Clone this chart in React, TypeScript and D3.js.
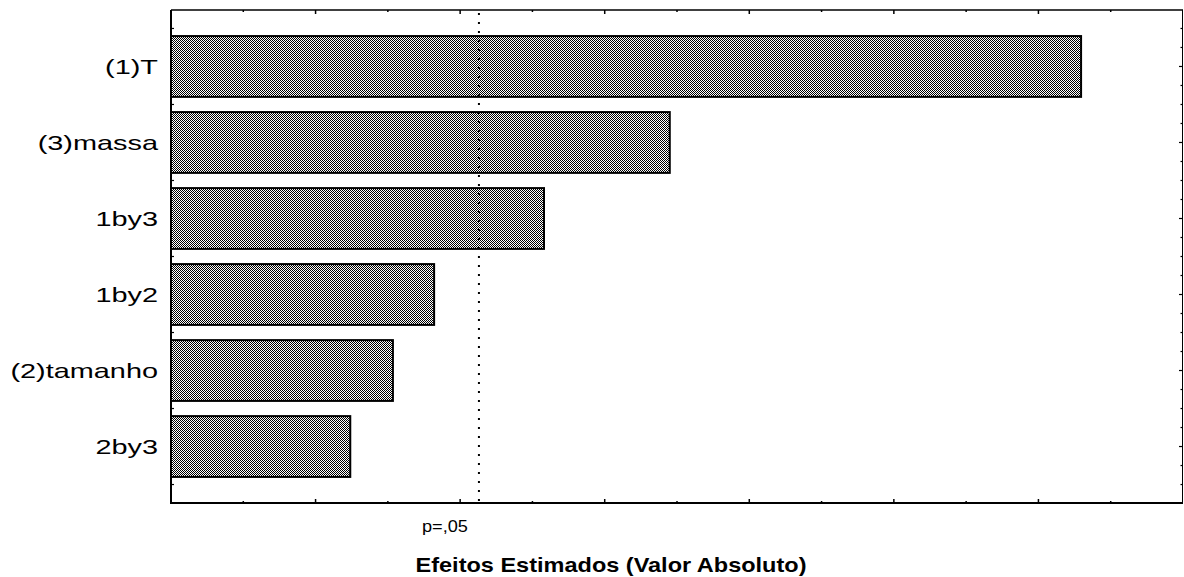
import React from "react";
import * as d3 from "d3";

const categories = ["(1)T", "(3)massa", "1by3", "1by2", "(2)tamanho", "2by3"];
const effects = [12.59, 6.9, 5.16, 3.64, 3.07, 2.48];
const pCritical = 4.26;
const pLabel = "p=,05";
const xTicks = d3.range(0, 15, 1);
const xTitle = "Efeitos Estimados (Valor Absoluto)";

const W = 1184;
const H = 577;
const L = 171, R = 1183, T = 10, B = 503;
const FONT = "'Liberation Sans', Arial, Helvetica, sans-serif";

export default function App() {
  const x = d3.scaleLinear().domain([0, 14]).range([L, R]);
  const y = d3.scaleLinear().domain([-0.743, categories.length - 1 + 0.743]).range([T, B]);
  const barH = 0.8;
  const rightTicks = d3.range(-0.5, categories.length - 0.5 + 0.01, 0.25);
  const leftTicks = d3.range(-0.5, categories.length - 0.5 + 0.01, 1);

  return (
    <svg width={W} height={H} style={{ position: "absolute", left: 0, top: 0, background: "#fff" }}>
      <defs>
        <pattern id="checker" width={2} height={2} patternUnits="userSpaceOnUse">
          <rect width={2} height={2} fill="#fff" />
          <rect x={0} y={0} width={1} height={1} fill="#000" />
          <rect x={1} y={1} width={1} height={1} fill="#000" />
        </pattern>
      </defs>
      <rect x={0} y={0} width={W} height={H} fill="#fff" />
      {categories.map((c, i) => (
        <rect
          key={c}
          x={x(0)}
          y={y(i - barH / 2)}
          width={x(effects[i]) - x(0)}
          height={y(i + barH / 2) - y(i - barH / 2)}
          fill="url(#checker)"
          stroke="#000"
          strokeWidth={2}
        />
      ))}
      <line x1={L} y1={T} x2={R} y2={T} stroke="#000" strokeWidth={1.5} />
      <line x1={R - 0.5} y1={T} x2={R - 0.5} y2={B} stroke="#000" strokeWidth={1} />
      <line x1={L} y1={T} x2={L} y2={B + 1} stroke="#000" strokeWidth={2} />
      <line x1={L - 1} y1={B} x2={R} y2={B} stroke="#000" strokeWidth={2} />
      {xTicks.slice(1, -1).map((t) => {
        const len = t % 2 === 0 ? 4 : 2;
        return (
          <g key={t}>
            <line x1={x(t)} x2={x(t)} y1={T} y2={T + len} stroke="#000" strokeWidth={1.5} />
            <line x1={x(t)} x2={x(t)} y1={B} y2={B - len} stroke="#000" strokeWidth={1.5} />
          </g>
        );
      })}
      {rightTicks.map((t, k) => {
        const major = Math.abs(t - Math.round(t)) < 1e-6;
        const len = major ? 4 : 2.5;
        return <line key={k} x1={R} x2={R - len} y1={y(t)} y2={y(t)} stroke="#000" strokeWidth={1.2} />;
      })}
      {leftTicks.map((t, k) => (
        <line key={k} x1={L} x2={L + 3} y1={y(t)} y2={y(t)} stroke="#000" strokeWidth={1.2} />
      ))}
      <line
        x1={x(pCritical)}
        x2={x(pCritical)}
        y1={T + 3}
        y2={B}
        stroke="#000"
        strokeWidth={2}
        strokeDasharray="2,7"
      />
      {categories.map((c, i) => (
        <text
          key={c}
          transform={`translate(158,${y(i) + 7.5}) scale(1.375,1)`}
          textAnchor="end"
          fontFamily={FONT}
          fontSize={21}
          fill="#000"
        >
          {c}
        </text>
      ))}
      <text
        transform={`translate(${x(pCritical) - 34},532) scale(1.1,1)`}
        textAnchor="middle"
        fontFamily={FONT}
        fontSize={16.5}
        fill="#000"
      >
        {pLabel}
      </text>
      <text
        transform={`translate(611,572) scale(1.12,1)`}
        textAnchor="middle"
        fontFamily={FONT}
        fontSize={21}
        fontWeight="bold"
        fill="#000"
      >
        {xTitle}
      </text>
    </svg>
  );
}
